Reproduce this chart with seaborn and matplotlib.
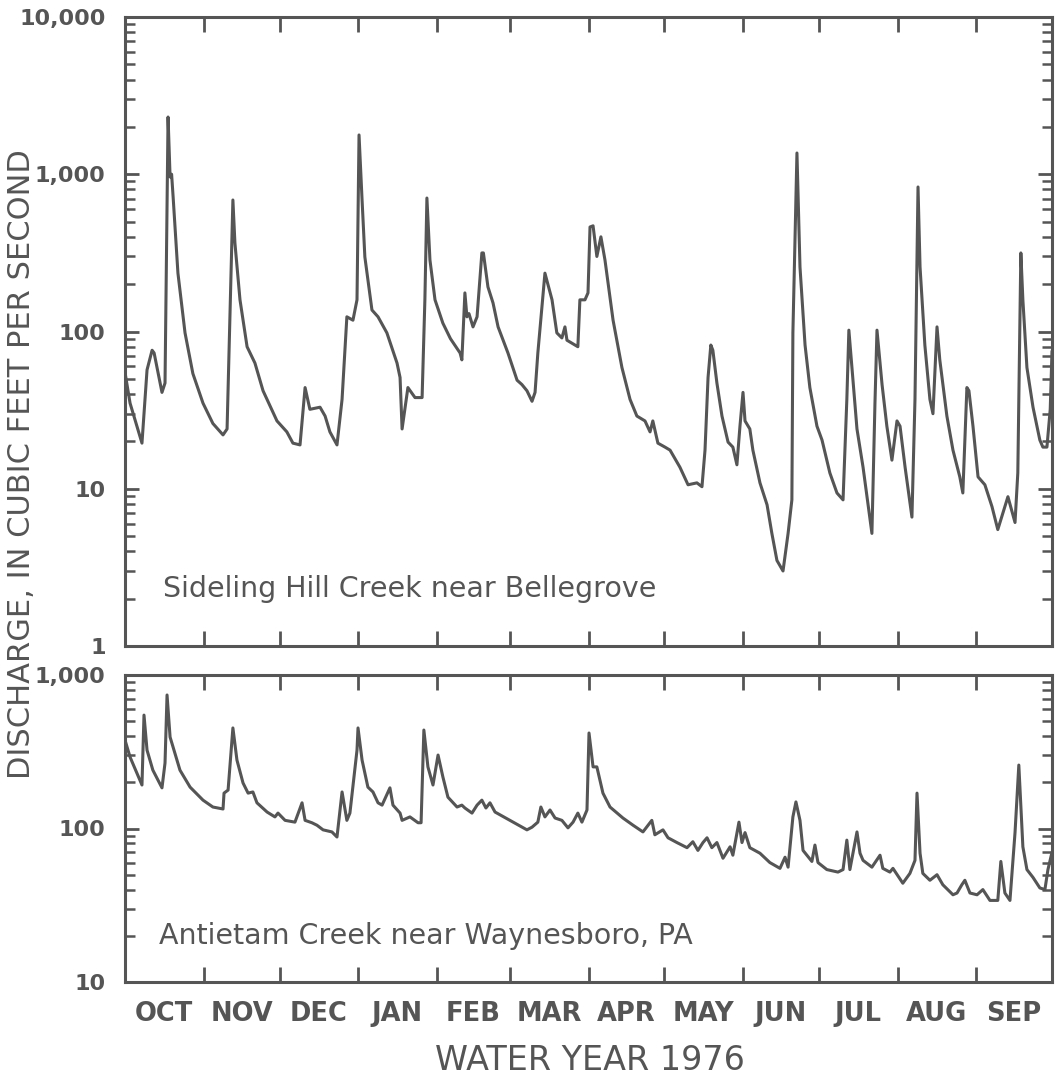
import numpy as np
import pandas as pd
import matplotlib
matplotlib.use("Agg")
import matplotlib.pyplot as plt
import matplotlib.ticker as mticker
import seaborn as sns

# Daily-discharge trace vertices, water year 1976 (day 0 = Oct 1, 1975)
sideling_day = [0, 2, 6.7, 8.7, 10.7, 11.5, 14.6, 15.8, 17, 17.8, 18.4, 19, 20.9, 23.7, 26.8,
                30.8, 34.7, 38.7, 40.3, 42.6, 43.4, 45.4, 48.2, 51.3, 54.5, 60, 63.9, 66.3,
                69.1, 71.1, 73, 77, 79, 80.9, 83.7, 85.7, 87.6, 90, 91.6, 92.4, 93.6, 94.7,
                97.5, 99.9, 103.4, 107.4, 108.6, 109.4, 111.7, 114.5, 117.3, 118.4, 119.2,
                120.4, 122.4, 125.5, 128.5, 132.3, 133, 134.2, 135, 135.8, 137.4, 139, 140.9,
                141.5, 143.3, 145.3, 147.3, 151.2, 154.8, 156.7, 158.7, 160.7, 161.9, 163,
                165.8, 168.6, 170.5, 172.5, 173.7, 174.5, 177.7, 178.8, 179.6, 181.6, 182.8,
                183.6, 184.8, 186.3, 187.9, 189.5, 192.7, 196.2, 199.4, 202.1, 205.3, 207.3,
                208.4, 210.4, 213.2, 215.2, 219.1, 222.3, 225.8, 227.8, 229, 230.2, 231.3,
                232.1, 233.7, 235.7, 238.1, 240, 241.6, 242.8, 244, 244.8, 246.7, 247.9,
                250.7, 253.5, 255.4, 257.4, 259.8, 261.8, 263.3, 263.7, 265.3, 266.5, 268.5,
                270.4, 273.2, 275.2, 278.3, 281.1, 283.5, 285, 285.8, 287, 289, 291.4, 294.9,
                296.1, 296.9, 298.9, 300.8, 302.8, 304.8, 306, 308, 310.7, 311.9, 313.1,
                313.9, 315.8, 317.8, 319, 320.6, 321.7, 324.5, 326.9, 329.6, 330.8, 332.4,
                333.2, 334.8, 336.8, 339.5, 342.3, 344.6, 348.6, 351.4, 352.5, 353.7, 354.5,
                356.1, 358.5, 361.2, 362.4, 364, 365.3, 366]
sideling_cfs = [55, 35, 19.5, 57, 76, 73, 41, 47, 2312, 961, 1000, 717, 235, 98, 54,
                35, 26, 22, 24, 686, 365, 159, 80, 63, 42, 27, 23, 19.5,
                19, 44, 32, 33, 29, 23, 19, 37, 124, 118, 159, 1778, 686, 298,
                137, 124, 98, 63, 51, 24, 44, 38, 38, 159, 706,
                285, 159, 113, 90, 73, 66, 176, 124, 130, 107, 124, 316,
                316, 192, 152, 107, 73, 49, 46, 42, 36, 41, 73,
                235, 159, 98, 91, 107, 88, 82, 80, 159, 159, 176,
                462, 470, 300, 400, 285, 118, 59, 37, 29, 27, 23,
                27, 19.5, 18.4, 17.6, 13.7, 10.6, 10.9, 10.3, 17.6, 51, 82,
                76, 47, 29, 19.8, 18.4, 14.2, 25, 41, 27, 24, 17.6,
                10.9, 7.9, 5.2, 3.5, 3.0, 5.2, 8.5, 98, 1365, 257, 82,
                44, 25, 20.4, 12.6, 9.4, 8.5, 37, 102, 59, 24, 13.7, 5.2,
                35, 102, 46, 25, 15.2, 27, 25, 13.7, 6.6, 37, 830,
                257, 82, 37, 30, 107, 66, 29, 17.6, 11.9, 9.4, 44,
                42, 25, 11.9, 10.6, 7.7, 5.5, 8.9, 6.1, 12.6, 316, 159,
                59, 33, 20.4, 18.4, 18.4, 32, 75]

antietam_day = [0, 2, 4.7, 6.7, 7.5, 8.7, 11, 14.6, 15.8, 16.6, 17.8, 21.7, 25.7, 30.8, 34.7,
                38.7, 39.1, 40.7, 42.6, 44.2, 46.6, 48.6, 50.5, 52.1, 56.1, 59.2, 60.4, 63.2,
                67.1, 69.9, 71.1, 73.8, 75.8, 78.2, 81.7, 83.7, 85.7, 87.6, 88.8, 91.6, 92,
                93.6, 95.9, 97.9, 99.9, 101.5, 104.6, 105.8, 108.6, 109.4, 112.5, 115.7,
                116.9, 118, 119.6, 121.6, 123.6, 125.5, 127.5, 131.1, 133, 134.2, 137, 139,
                140.9, 142.5, 144.1, 146.1, 152, 158.7, 160.7, 163, 164.2, 165.8, 167.8,
                169.8, 172.5, 174.9, 176.9, 178.8, 180.4, 182.4, 183.2, 184.8, 186.3, 188.7,
                191.5, 196.6, 200.6, 204.5, 208, 209.2, 212.4, 214.4, 217.9, 221.9, 224.2,
                226.2, 228.2, 229.8, 231.7, 233.7, 236.1, 238.9, 240, 242.4, 243.6, 244.8,
                246.7, 250.7, 254.6, 258.6, 260.6, 261.8, 263.7, 264.9, 266.5, 267.7, 271.2,
                272.4, 273.6, 277.1, 281.5, 283.5, 285, 286.2, 289, 290.2, 291.4, 294.9,
                298.1, 299.2, 302, 303.2, 307.1, 309.9, 311.9, 312.7, 313.9, 315, 317.8,
                320.6, 322.9, 326.9, 328.5, 330.4, 331.6, 333.6, 336.4, 338.7, 341.5, 344.6,
                345.8, 347.4, 349.4, 351.4, 352.9, 354.5, 356.1, 358.5, 361.2, 363.2, 364.4,
                366]
antietam_cfs = [377, 292, 230, 192, 548, 324, 240, 184, 267, 741, 394, 240, 186, 153, 138,
                134, 170, 178, 452, 279, 198, 170, 173, 147, 128, 119, 126, 113,
                110, 147, 113, 109, 105, 98, 95, 88, 173, 113, 126, 324, 452,
                279, 186, 173, 147, 142, 184, 142, 126, 113, 119, 109,
                109, 438, 252, 192, 301, 217, 160, 138, 142, 136, 126, 142,
                153, 136, 147, 128, 113, 98, 102, 110, 138, 119, 132,
                117, 113, 101, 110, 126, 110, 132, 419, 252, 252, 170,
                138, 117, 105, 95, 113, 91, 98, 87, 81, 75, 82,
                72, 81, 87, 75, 81, 64, 76, 67, 110, 81, 94,
                75, 69, 60, 55, 65, 56, 119, 149, 113, 72, 61,
                78, 60, 54, 52, 54, 84, 54, 95, 69, 62, 56,
                67, 55, 52, 55, 44, 51, 62, 170, 69, 51, 46,
                50, 43, 37, 38, 43, 46, 38, 37, 40, 34, 34,
                61, 38, 34, 94, 259, 76, 54, 48, 41, 40, 54,
                70]

month_labels = ["OCT", "NOV", "DEC", "JAN", "FEB", "MAR", "APR", "MAY", "JUN",
                "JUL", "AUG", "SEP"]
month_days = [31, 30, 31, 31, 29, 31, 30, 31, 30, 31, 31, 30]

ink = "#555555"

sns.set_theme(style="ticks")
plt.rcParams["font.family"] = ["DejaVu Sans"]

W, H = 1057, 1088
fig = plt.figure(figsize=(W / 100, H / 100), dpi=100, facecolor="white")

def frac_box(x0, y0, x1, y1):
    return [x0 / W, 1 - y1 / H, (x1 - x0) / W, (y1 - y0) / H]

ax_top = fig.add_axes(frac_box(125, 17, 1052, 646))
ax_bot = fig.add_axes(frac_box(125, 675, 1052, 982))

top_df = pd.DataFrame({"day": sideling_day, "cfs": sideling_cfs})
bot_df = pd.DataFrame({"day": antietam_day, "cfs": antietam_cfs})

sns.lineplot(data=top_df, x="day", y="cfs", ax=ax_top, color=ink, lw=2.2,
             sort=False, estimator=None)
sns.lineplot(data=bot_df, x="day", y="cfs", ax=ax_bot, color=ink, lw=2.2,
             sort=False, estimator=None)

bounds = np.concatenate([[0], np.cumsum(month_days)])
mids = (bounds[:-1] + bounds[1:]) / 2

def comma_fmt(v, pos):
    return f"{int(round(v)):,}"

for ax, (lo, hi) in ((ax_top, (1, 10000)), (ax_bot, (10, 1000))):
    ax.set_yscale("log")
    ax.set_ylim(lo, hi)
    ax.set_xlim(0, bounds[-1])
    ax.set_xlabel("")
    ax.set_ylabel("")
    ax.set_facecolor("white")
    for s in ax.spines.values():
        s.set_visible(True)
        s.set_color(ink)
        s.set_linewidth(2.2)
    ax.yaxis.set_major_locator(mticker.LogLocator(base=10))
    ax.yaxis.set_minor_locator(mticker.LogLocator(base=10, subs=np.arange(2, 10)))
    ax.yaxis.set_major_formatter(mticker.FuncFormatter(comma_fmt))
    ax.yaxis.set_minor_formatter(mticker.NullFormatter())
    ax.set_xticks(bounds)
    ax.set_xticks(mids, minor=True)
    ax.tick_params(axis="y", which="major", direction="in", left=True, right=True,
                   length=10, width=2, color=ink, labelsize=16, labelcolor=ink, pad=14)
    ax.tick_params(axis="y", which="minor", direction="in", left=True, right=True,
                   length=7, width=1.8, color=ink)
    ax.tick_params(axis="x", which="major", direction="in", top=True, bottom=True,
                   length=11, width=2, color=ink, labelbottom=False)
    ax.tick_params(axis="x", which="minor", length=0, labelbottom=False)
    for t in ax.get_yticklabels():
        t.set_fontweight("bold")

ax_bot.set_xticklabels(month_labels, minor=True)
ax_bot.tick_params(axis="x", which="minor", labelbottom=True, labelsize=18.5,
                   labelcolor=ink, pad=14)
for t in ax_bot.get_xticklabels(minor=True):
    t.set_fontweight("bold")

ax_top.text(0.041, 0.090, "Sideling Hill Creek near Bellegrove", transform=ax_top.transAxes,
            fontsize=20.5, color=ink, ha="left", va="center")
ax_bot.text(0.037, 0.150, "Antietam Creek near Waynesboro, PA", transform=ax_bot.transAxes,
            fontsize=20.5, color=ink, ha="left", va="center")

fig.text(22 / W, 1 - 464 / H, "DISCHARGE, IN CUBIC FEET PER SECOND", rotation=90,
         fontsize=22, color=ink, ha="center", va="center")
fig.text(590 / W, 1 - 1060 / H, "WATER YEAR 1976", fontsize=24, color=ink,
         ha="center", va="center")

fig.savefig("out.png", dpi=100, facecolor="white")
